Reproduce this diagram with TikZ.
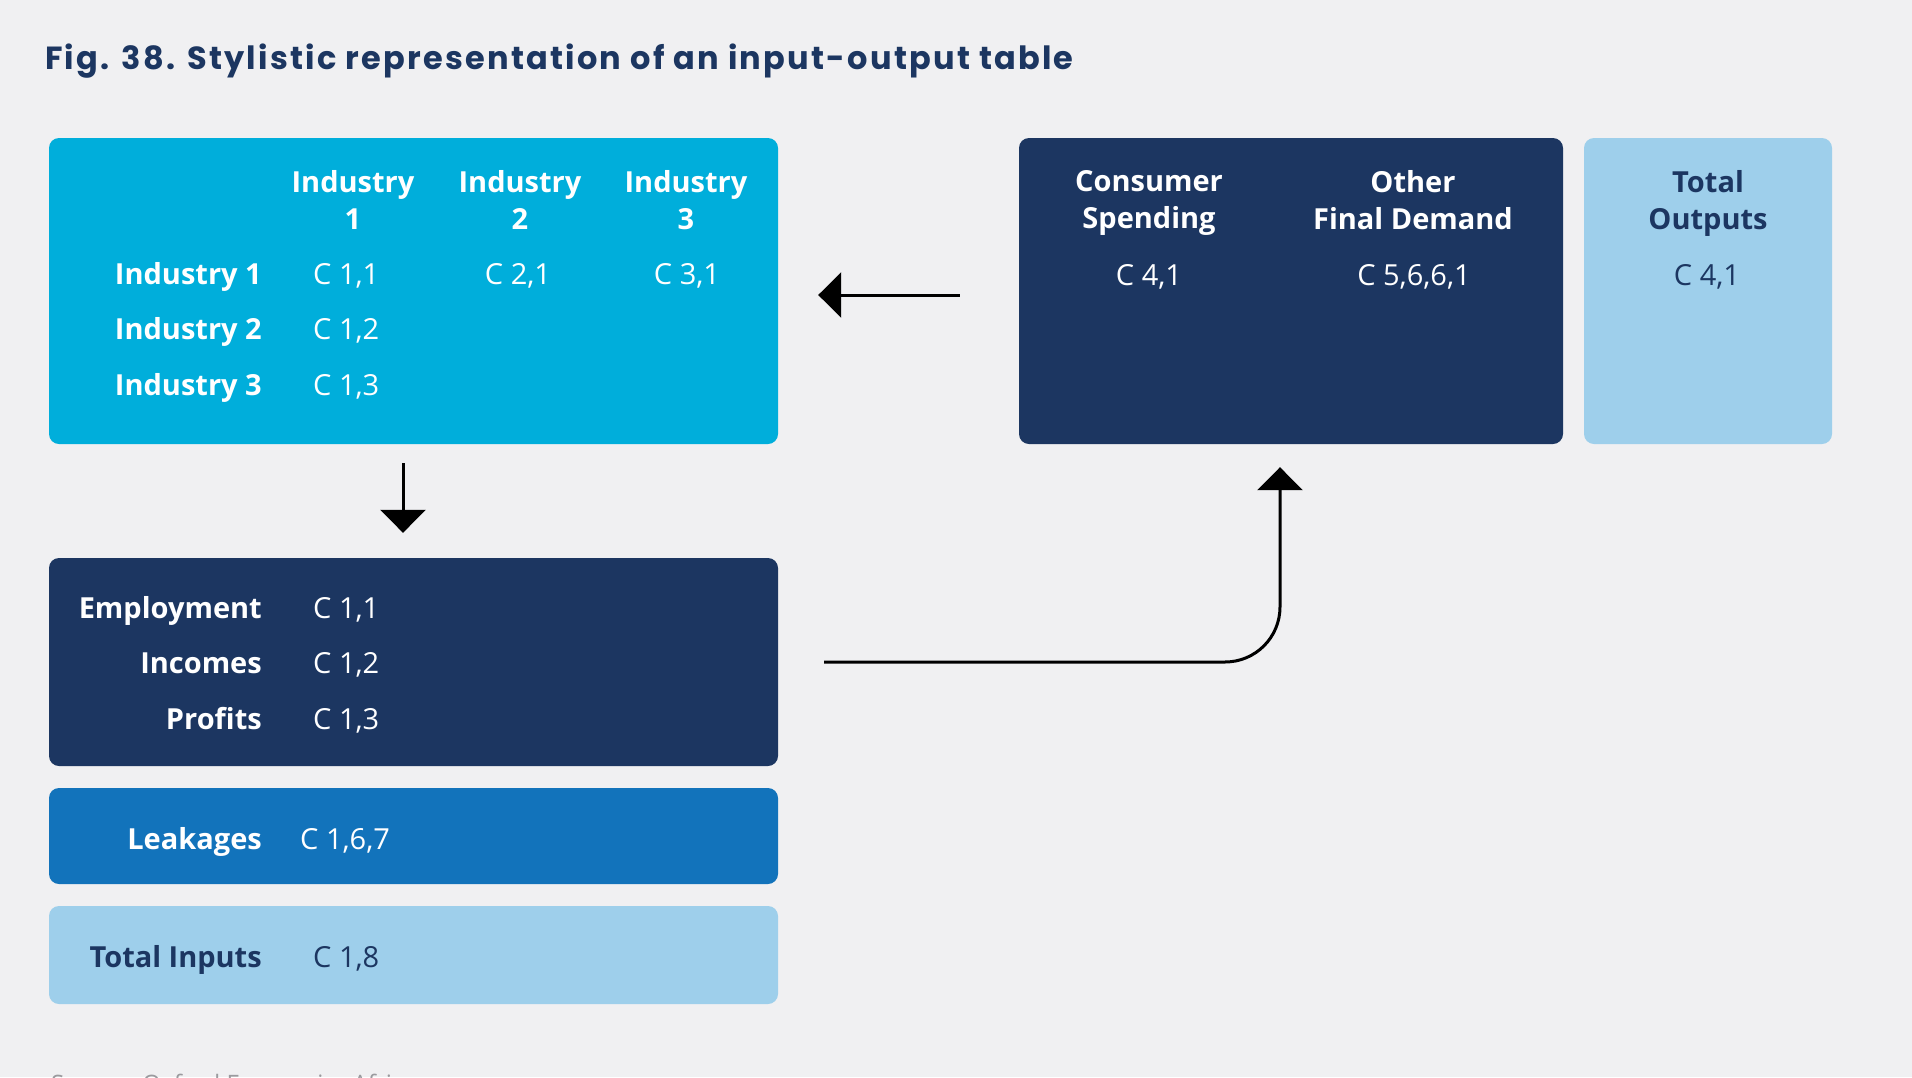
\documentclass[tikz,border=0pt]{standalone}
\usepackage{fontspec}
\setmainfont{Open Sans}
\newfontfamily\titlefont[LetterSpace=7]{Poppins}
\usetikzlibrary{arrows.meta}

\definecolor{pagebg}{HTML}{F0F0F2}
\definecolor{navy}{HTML}{1C3661}
\definecolor{cyanbox}{HTML}{00AEDB}
\definecolor{midblue}{HTML}{1273BB}
\definecolor{paleblue}{HTML}{9ECFEB}
\definecolor{srcgray}{HTML}{9A9A9E}

\tikzstyle{block} = [rectangle,rounded corners=10pt,inner sep=0pt]
\tikzstyle{rowlabel} = [anchor=base east,inner sep=0pt,text=white,font=\fontsize{29}{36}\selectfont\bfseries]
\tikzstyle{cell} = [anchor=base west,inner sep=0pt,text=white,font=\fontsize{29}{36}\selectfont]
\tikzstyle{midcell} = [cell,anchor=base]
\tikzstyle{colhead} = [anchor=north,align=center,inner sep=0pt,text=white,font=\fontsize{29}{37}\selectfont\bfseries]
\tikzstyle{flow} = [line width=3pt,-{Triangle[length=23pt,width=45pt]}]

\begin{document}
\begin{tikzpicture}[x=1pt,y=-1pt]
		\useasboundingbox[fill=pagebg] (0,0) rectangle (1912,1077);
		\node[anchor=base west,inner sep=0pt,text=navy,font=\fontsize{32}{36}\selectfont\titlefont\bfseries] (title) at (45,69) {Fig. 38. Stylistic representation of an input-output table};
		\node[block,fill=cyanbox,minimum width=729pt,minimum height=306pt] (inter) at (413.5,291) {};
		\node[block,fill=navy,minimum width=544pt,minimum height=306pt] (final) at (1291,291) {};
		\node[block,fill=paleblue,minimum width=248pt,minimum height=306pt] (outputs) at (1708,291) {};
		\node[block,fill=navy,minimum width=729pt,minimum height=208pt] (value) at (413.5,662) {};
		\node[block,fill=midblue,minimum width=729pt,minimum height=96pt] (leak) at (413.5,836) {};
		\node[block,fill=paleblue,minimum width=729pt,minimum height=98pt] (inputs) at (413.5,955) {};
		\node[colhead] (head1) at (353,170) {Industry\\1};
		\node[colhead] (head2) at (520,170) {Industry\\2};
		\node[colhead] (head3) at (686,170) {Industry\\3};
		\node[rowlabel] (row1) at (262,284) {Industry 1};
		\node[rowlabel] (row2) at (262,339) {Industry 2};
		\node[rowlabel] (row3) at (262,395) {Industry 3};
		\node[cell] (c11) at (313,284) {C 1,1};
		\node[cell] (c12) at (313,339) {C 1,2};
		\node[cell] (c13) at (313,395) {C 1,3};
		\node[midcell] (c21) at (518,284) {C 2,1};
		\node[midcell] (c31) at (687,284) {C 3,1};
		\node[colhead] (headcons) at (1149,170) {Consumer\\Spending};
		\node[colhead] (headother) at (1413,170) {Other\\Final Demand};
		\node[colhead,text=navy] (headout) at (1708,170) {Total\\Outputs};
		\node[midcell] (c41) at (1149,285) {C 4,1};
		\node[midcell] (c5661) at (1414,285) {C 5,6,6,1};
		\node[midcell,text=navy] (cout) at (1707,285) {C 4,1};
		\node[rowlabel] (emp) at (262,618) {Employment};
		\node[rowlabel] (inc) at (262,673) {Incomes};
		\node[rowlabel] (prof) at (262,729) {Profits};
		\node[cell] (vemp) at (313,618) {C 1,1};
		\node[cell] (vinc) at (313,673) {C 1,2};
		\node[cell] (vprof) at (313,729) {C 1,3};
		\node[rowlabel] (leaklabel) at (262,849) {Leakages};
		\node[cell] (vleak) at (300,849) {C 1,6,7};
		\node[rowlabel,text=navy] (inlabel) at (262,967) {Total Inputs};
		\node[cell,text=navy] (vin) at (313,967) {C 1,8};
		\node[anchor=north west,inner sep=0pt,text=srcgray,font=\fontsize{24}{28}\selectfont] (source) at (51,1074) {Source: Oxford Economics Africa};
		\coordinate (downx) at (403,0);
		\coordinate (upx) at (1280,0);
		\draw[flow,shorten <=59pt,shorten >=40pt] (final.west) ++(0,4) -- (inter.east |- 0,295);
		\draw[flow,shorten <=19pt,shorten >=25pt] (inter.south -| downx) -- (value.north -| downx);
		\draw[flow,rounded corners=55pt,shorten <=46pt,shorten >=23pt] (value.east) -- (value.east -| upx) -- (final.south -| upx);
\end{tikzpicture}
\end{document}
